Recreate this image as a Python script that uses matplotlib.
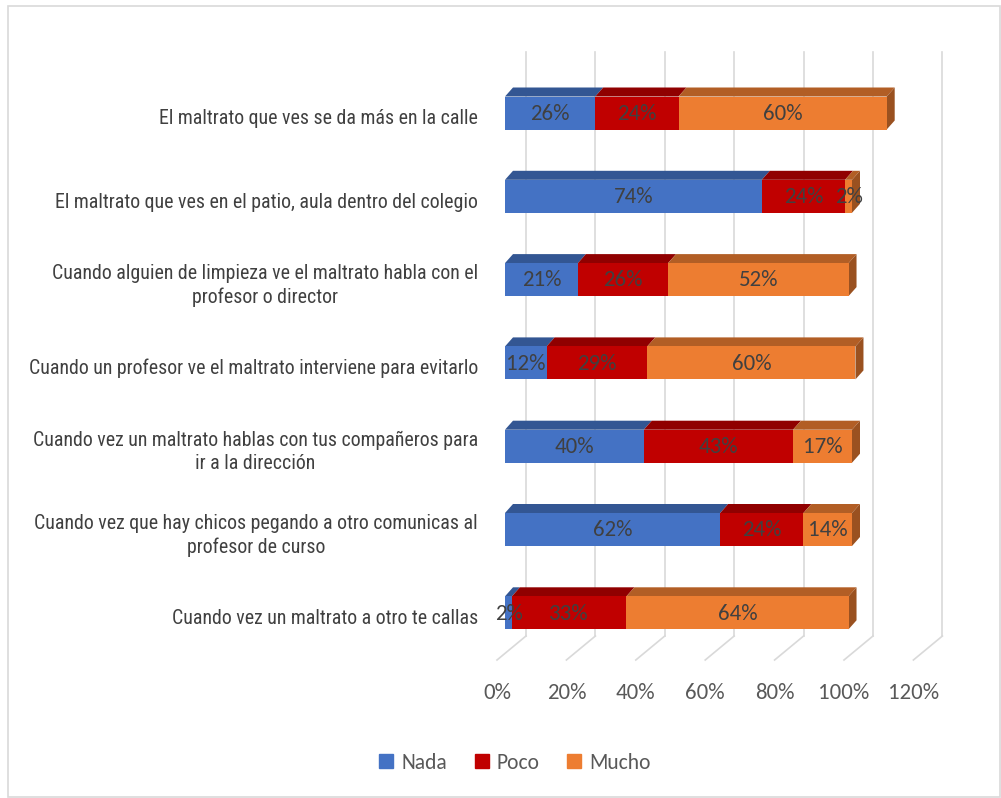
#!/usr/bin/env python3
"""
Stacked horizontal bars (Excel 3D style) - opinions about maltrato escolar.
"""
import matplotlib
matplotlib.use("Agg")
import matplotlib.pyplot as plt
from matplotlib.patches import Polygon, Rectangle
from matplotlib.lines import Line2D
import matplotlib.colors as mcolors

categories = [
    "El maltrato que ves se da más en la calle",
    "El maltrato que ves en el patio, aula dentro del colegio",
    "Cuando alguien de limpieza ve el maltrato habla con el\nprofesor o director",
    "Cuando un profesor ve el maltrato interviene para evitarlo",
    "Cuando vez un maltrato hablas con tus compañeros para\nir a la dirección",
    "Cuando vez que hay chicos pegando a otro comunicas al\nprofesor de curso",
    "Cuando vez un maltrato a otro te callas",
]
series_names = ["Nada", "Poco", "Mucho"]
nada = [26, 74, 21, 12, 40, 62, 2]
poco = [24, 24, 26, 29, 43, 24, 33]
mucho = [60, 2, 52, 60, 17, 14, 64]
xticks = [0, 20, 40, 60, 80, 100, 120]

colors = ["#4472C4", "#C00000", "#ED7D31"]
text_col = "#404040"
tick_col = "#595959"
grid_col = "#D9D9D9"

NUM_FONT = ["Carlito", "DejaVu Sans"]
CAT_FONT = ["Roboto Condensed", "DejaVu Sans"]


def shade(c, f):
    r, g, b = mcolors.to_rgb(c)
    return (r * f, g * f, b * f)
# end def: shade


def main():
    W, H = 1001, 798
    fig = plt.figure(figsize=(W / 100, H / 100), dpi=100)

    # pixel layout of the plot area
    x0_px, px_per_pct = 505, 3.47
    y0_px, px_per_cat = 113, 83.3
    ax_l, ax_r = 480, 960
    ax_t, ax_b = 39.7, 664.5
    ax = fig.add_axes([ax_l / W, 1 - ax_b / H, (ax_r - ax_l) / W, (ax_b - ax_t) / H])
    ax.set_xlim((ax_l - x0_px) / px_per_pct, (ax_r - x0_px) / px_per_pct)
    ax.set_ylim((ax_b - y0_px) / px_per_cat, (ax_t - y0_px) / px_per_cat)
    ax.axis("off")

    # 3D geometry (data units)
    bar_h = 33 / px_per_cat
    dx, dy = 8 / px_per_pct, 9 / px_per_cat
    wall_dx = 21 / px_per_pct
    front_dx = 8 / px_per_pct
    wall_top = (52 - y0_px) / px_per_cat
    wall_bot = (636 - y0_px) / px_per_cat
    floor_front = (660 - y0_px) / px_per_cat

    # back wall gridlines and floor lines
    for v in xticks:
        ax.plot([v + wall_dx, v + wall_dx], [wall_top, wall_bot], color=grid_col,
                lw=1.2, zorder=0, clip_on=False)
        ax.plot([v + wall_dx, v - front_dx], [wall_bot, floor_front], color=grid_col,
                lw=1.2, zorder=0, clip_on=False)
        ax.text(v - front_dx, (693 - y0_px) / px_per_cat, f"{v}%", ha="center",
                va="center", fontsize=16.5, color=tick_col, family=NUM_FONT)

    data = [nada, poco, mucho]
    for i in range(len(categories)):
        left = 0
        y_top = i - bar_h / 2
        y_bot = i + bar_h / 2
        for s, vals in enumerate(data):
            w = vals[i]
            c = colors[s]
            ax.add_patch(Rectangle((left, y_top), w, bar_h, facecolor=c,
                                   edgecolor="none", zorder=3))
            ax.add_patch(Polygon([(left, y_top), (left + w, y_top),
                                  (left + w + dx, y_top - dy), (left + dx, y_top - dy)],
                                 closed=True, facecolor=shade(c, 0.75),
                                 edgecolor="none", zorder=2))
            ax.text(left + w / 2, i + 0.01, f"{w}%", ha="center", va="center",
                    fontsize=16.5, color=text_col, family=NUM_FONT, zorder=5)
            left += w
        ax.add_patch(Polygon([(left, y_top), (left, y_bot),
                              (left + dx, y_bot - dy), (left + dx, y_top - dy)],
                             closed=True, facecolor=shade(colors[2], 0.65),
                             edgecolor="none", zorder=2))
        ax.text((478 - x0_px) / px_per_pct, i + 0.07, categories[i], ha="right",
                va="center", multialignment="center", fontsize=14.3,
                color=text_col, family=CAT_FONT, clip_on=False,
                linespacing=1.25)

    handles = [Line2D([], [], marker="s", linestyle="none", markersize=10,
                      markerfacecolor=c, markeredgecolor=c) for c in colors]
    fig.legend(handles, series_names, loc="center", bbox_to_anchor=(512 / W, 1 - 763 / H),
               ncol=3, frameon=False, handletextpad=0.1, columnspacing=1.0,
               handlelength=1.2, prop={"family": NUM_FONT, "size": 15.5},
               labelcolor=tick_col)

    fig.patches.append(Rectangle((8 / W, 1 / H), (W - 9) / W, (H - 7) / H,
                                 transform=fig.transFigure, fill=False,
                                 edgecolor="#D9D9D9", lw=1.2))

    fig.savefig("out.png", dpi=100, facecolor="white")
# end def: main


if __name__ == "__main__":
    main()
# end if
